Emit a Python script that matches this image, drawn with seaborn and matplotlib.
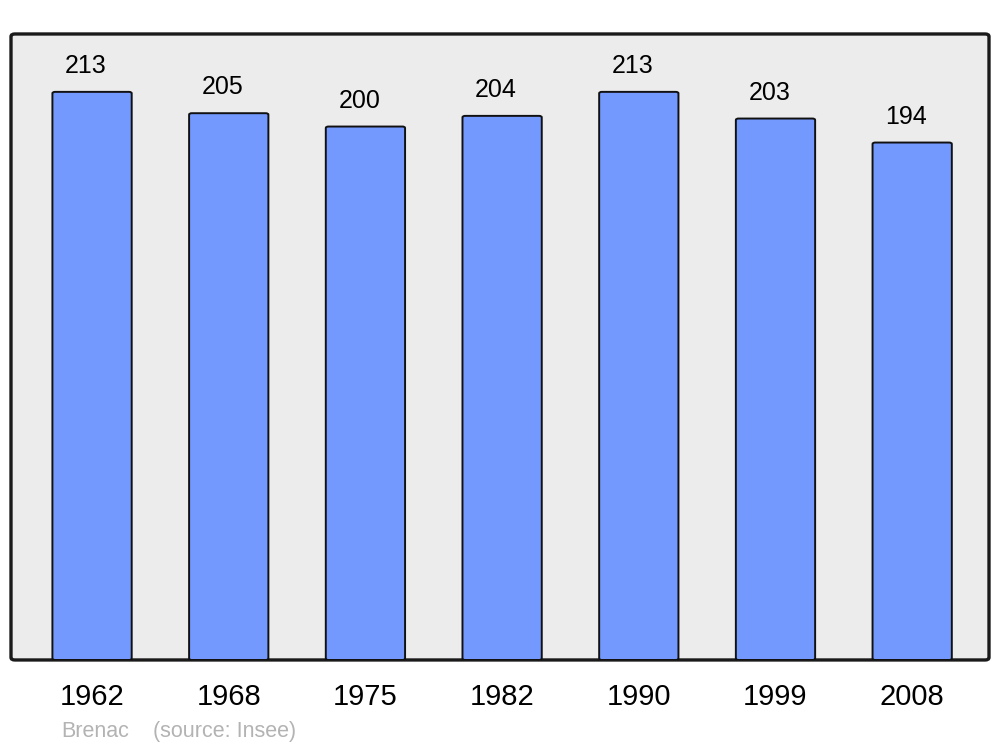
import matplotlib
matplotlib.use("Agg")
import matplotlib.pyplot as plt
from matplotlib.patches import FancyBboxPatch
import seaborn as sns
import pandas as pd

years = ["1962", "1968", "1975", "1982", "1990", "1999", "2008"]
population = [213, 205, 200, 204, 213, 203, 194]
commune = "Brenac"
source = "(source: Insee)"

sns.set_theme(style="white")
plt.rcParams["font.family"] = ["Liberation Sans", "DejaVu Sans"]

df = pd.DataFrame({"year": years, "pop": population})

fig = plt.figure(figsize=(10, 7.47), dpi=100)
ax = fig.add_axes([0.011, 0.1165, 0.978, 0.838])
ax.set_facecolor("none")

sns.barplot(data=df, x="year", y="pop", color="#7399ff", width=0.58,
            saturation=1, ax=ax, zorder=2)

ax.set_ylim(0, 234.7)
ax.set_xlim(-0.593, 6.562)

# rounded bars replacing the plain rectangles
for p in list(ax.patches):
    x, y, w, h = p.get_x(), p.get_y(), p.get_width(), p.get_height()
    rb = FancyBboxPatch((x, y), w, h, boxstyle="round,pad=0,rounding_size=0.02",
                        mutation_aspect=234.7 / 7.155 * 0.626 / 0.978 * 1.34,
                        facecolor="#7399ff", edgecolor="#111111", linewidth=1.4,
                        zorder=2)
    p.remove()
    ax.add_patch(rb)

# background frame with rounded corners
frame = FancyBboxPatch((0, 0), 1, 1, boxstyle="round,pad=0,rounding_size=0.004",
                       transform=ax.transAxes, facecolor="#ececec",
                       edgecolor="#1a1a1a", linewidth=2.4, zorder=0,
                       clip_on=False)
ax.add_patch(frame)

for i, v in enumerate(population):
    ax.annotate(str(v), (i, v), xytext=(-4.3, 13.7), textcoords="offset points",
                ha="center", va="baseline", fontsize=18, color="black")

for s in ax.spines.values():
    s.set_visible(False)
ax.set_xlabel("")
ax.set_ylabel("")
ax.set_yticks([])
ax.tick_params(axis="x", length=0, pad=16.5, labelsize=21, labelcolor="black")

fig.text(0.061, (747 - 737) / 747, commune, fontsize=15.5, color="#b3b3b3",
         ha="left", va="baseline")
fig.text(0.153, (747 - 737) / 747, source, fontsize=15.5, color="#b3b3b3",
         ha="left", va="baseline")

fig.savefig("out.png", dpi=100)
